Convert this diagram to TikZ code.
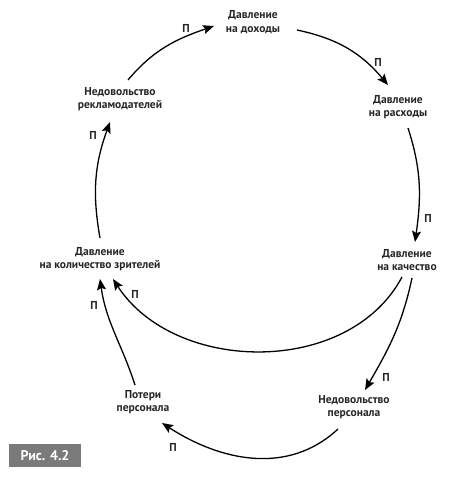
\documentclass[tikz,border=0pt]{standalone}
\usepackage{fontspec}
\setmainfont{PT Sans}
\usetikzlibrary{arrows.meta,calc}
\definecolor{figgray}{HTML}{7A7A7A}
\begin{document}
\begin{tikzpicture}[x=1pt,y=1pt,
  lbl/.style={font=\bfseries\fontsize{11.5}{13.5}\selectfont, align=center, inner sep=0pt, text=black!85},
  pmark/.style={font=\bfseries\fontsize{11.5}{13}\selectfont, inner sep=0pt, text=black!85},
  arr/.style={line width=1.3pt, -{Stealth[length=11pt,width=9pt,inset=2pt]}}]
\useasboundingbox (0,0) rectangle (459,480);
\node[lbl] (dohody) at (253,458) {Давление\\на доходы};
\node[lbl] (rashody) at (398,373) {Давление\\на расходы};
\node[lbl] (kach) at (407,220) {Давление\\на качество};
\node[lbl] (nedpers) at (354,73) {Недовольство\\персонала};
\node[lbl] (poteri) at (143,78) {Потери\\персонала};
\node[lbl] (zritel) at (100,221) {Давление\\на количество зрителей};
\node[lbl] (rekl) at (120,381) {Недовольство\\рекламодателей};
\node[fill=figgray, text=white, font=\bfseries\fontsize{14}{16}\selectfont, minimum width=72pt, minimum height=23pt, inner sep=0pt] (fig) at (45,24.5) {Рис. 4.2};
% connectors
\draw[arr] ($(rekl.center)+(8,19)$) to[out=50,in=199] ($(dohody.center)+(-39,-4)$);
\draw[arr] ($(dohody.center)+(44,-8)$) to[out=-12,in=130] ($(rashody.center)+(-10,22)$);
\draw[arr] ($(rashody.center)+(10,-21)$) to[out=-72,in=82] ($(kach.center)+(8,18)$);
\draw[arr] ($(kach.center)+(5,-18)$) to[out=-102,in=60] ($(nedpers.center)+(11,17)$);
\draw[arr] ($(kach.center)+(-5,-17)$) to[out=-118,in=-57] ($(zritel.center)+(13,-20)$);
\draw[arr] ($(nedpers.center)+(-16,-22)$) to[out=-137,in=-33] ($(poteri.center)+(19,-21)$);
\draw[arr] ($(poteri.center)+(-8,17)$) to[out=108,in=-82] ($(zritel.center)+(0,-20)$);
\draw[arr] ($(zritel.center)+(0,21)$) to[out=100,in=-110] ($(rekl.center)+(-10,-23)$);
% polarity marks
\node[pmark] (p1) at (186,452) {П};
\node[pmark] (p2) at (378,418) {П};
\node[pmark] (p3) at (428,262) {П};
\node[pmark] (p4) at (386,103) {П};
\node[pmark] (p5) at (135,186) {П};
\node[pmark] (p6) at (173,33) {П};
\node[pmark] (p7) at (94,175) {П};
\node[pmark] (p8) at (93,345) {П};
\end{tikzpicture}
\end{document}
